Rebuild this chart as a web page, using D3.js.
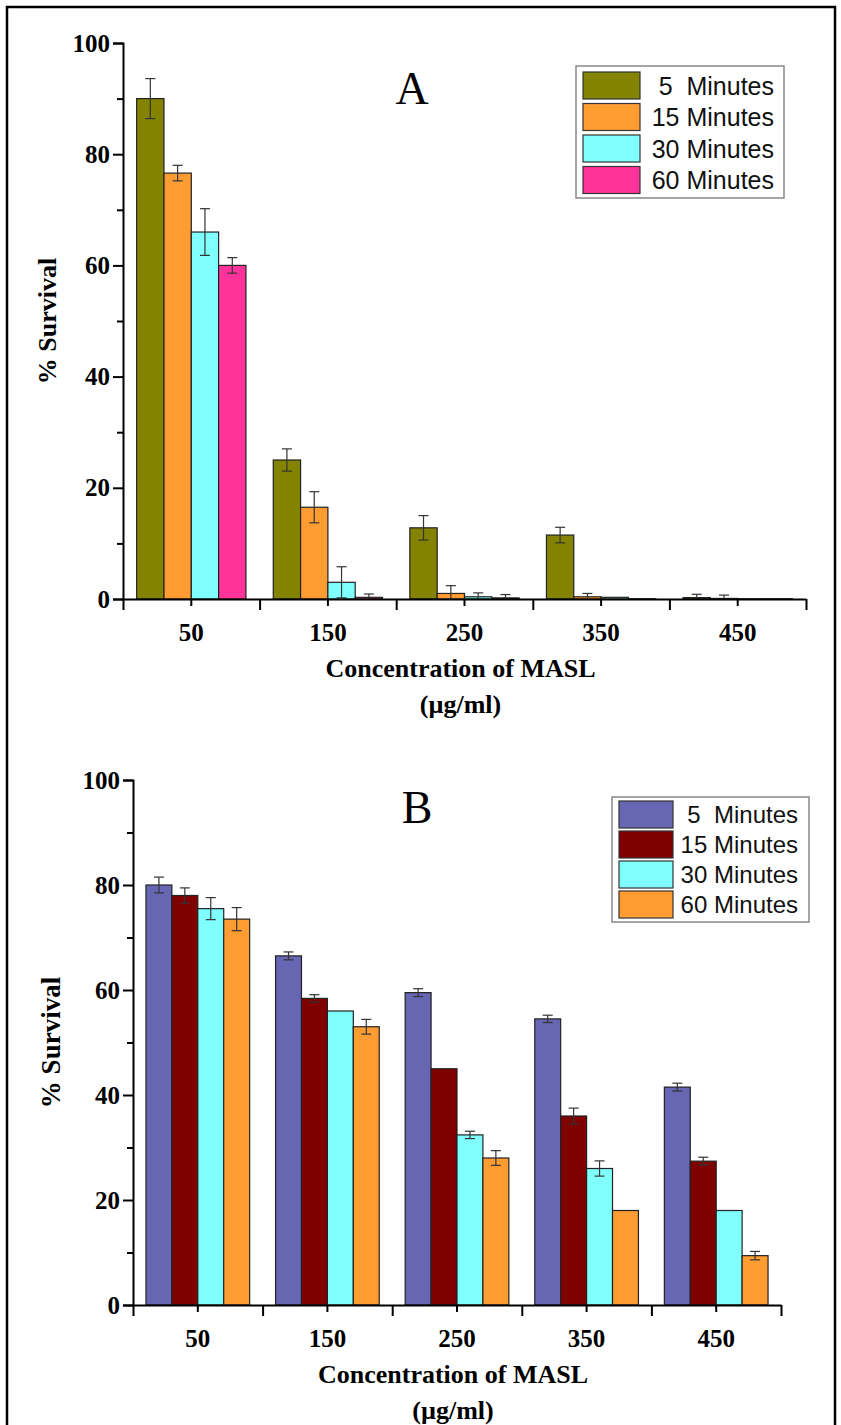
<!DOCTYPE html>
<html>
<head>
<meta charset="utf-8">
<script src="https://cdn.jsdelivr.net/npm/d3@7"></script>
<style>
    body { margin: 0; background: #fff; }
    svg { display: block; }
</style>
</head>
<body>
<div id="chart"></div>
<script>
const concentrations = ["50", "150", "250", "350", "450"];
const seriesNames = ["5  Minutes", "15 Minutes", "30 Minutes", "60 Minutes"];
const yTicks = [0, 20, 40, 60, 80, 100];
const yMinorTicks = [10, 30, 50, 70, 90];

// panel A: rows = concentration, columns = exposure time
const survivalA = [
    [90, 76.6, 66, 60],
    [25, 16.5, 3, 0.3],
    [12.8, 1, 0.4, 0.2],
    [11.5, 0.4, 0.3, 0.05],
    [0.25, 0.1, 0.05, 0.05]
];
const errorA = [
    [3.6, 1.4, 4.2, 1.4],
    [2, 2.8, 2.8, 0.6],
    [2.2, 1.4, 0.7, 0.6],
    [1.4, 0.6, 0, 0],
    [0.6, 0.6, 0, 0]
];
const colorsA = ["#838300", "#ff9d33", "#80ffff", "#ff3399"];

// panel B
const survivalB = [
    [80, 78, 75.5, 73.5],
    [66.5, 58.4, 56, 53],
    [59.5, 45, 32.4, 28],
    [54.5, 36, 26, 18],
    [41.5, 27.4, 18, 9.4]
];
const errorB = [
    [1.5, 1.45, 2.1, 2.2],
    [0.75, 0.7, 0, 1.4],
    [0.75, 0, 0.7, 1.4],
    [0.7, 1.5, 1.45, 0],
    [0.75, 0.75, 0, 0.8]
];
const colorsB = ["#6666b3", "#800000", "#80ffff", "#ff9d33"];

const width = 841, height = 1425;
const serif = "'Liberation Serif', 'Times New Roman', serif";
const sans = "'Liberation Sans', Arial, sans-serif";

const svg = d3.select("#chart").append("svg")
    .attr("width", width)
    .attr("height", height);

// outer frame
svg.append("rect")
    .attr("x", 7).attr("y", 7)
    .attr("width", 828).attr("height", 1440)
    .attr("fill", "none")
    .attr("stroke", "#000")
    .attr("stroke-width", 2.5);

function drawPanel(cfg) {
    const g = svg.append("g");

    const y = d3.scaleLinear().domain([0, 100]).range([cfg.y0, cfg.y100]);
    const x0 = d3.scaleBand().domain(concentrations).range([cfg.xL, cfg.xR]).padding(0);
    const bw = x0.bandwidth();
    const x1 = d3.scaleBand().domain(d3.range(seriesNames.length))
        .range([bw * 0.1, bw * 0.9]).padding(0);
    const xEdge = d3.scaleLinear().domain([0, concentrations.length]).range([cfg.xL, cfg.xR]);

    // bars
    const groups = g.append("g").selectAll("g")
        .data(cfg.values)
        .join("g")
        .attr("transform", (d, i) => `translate(${x0(concentrations[i])},0)`);

    groups.selectAll("rect")
        .data(d => d)
        .join("rect")
        .attr("x", (d, j) => x1(j))
        .attr("width", x1.bandwidth())
        .attr("y", d => y(d))
        .attr("height", d => cfg.y0 - y(d))
        .attr("fill", (d, j) => cfg.colors[j])
        .attr("stroke", "#222")
        .attr("stroke-width", 1.2);

    // error bars
    const errs = [];
    cfg.values.forEach((row, i) => row.forEach((v, j) => {
        const e = cfg.errors[i][j];
        if (e > 0) errs.push({ cx: x0(concentrations[i]) + x1(j) + x1.bandwidth() / 2, lo: Math.max(0, v - e), hi: v + e });
    }));
    const eg = g.append("g").attr("stroke", "#333").attr("stroke-width", 1.2);
    eg.selectAll("line.v").data(errs).join("line").attr("class", "v")
        .attr("x1", d => d.cx).attr("x2", d => d.cx)
        .attr("y1", d => y(d.lo)).attr("y2", d => y(d.hi));
    eg.selectAll("line.t").data(errs).join("line").attr("class", "t")
        .attr("x1", d => d.cx - 5).attr("x2", d => d.cx + 5)
        .attr("y1", d => y(d.hi)).attr("y2", d => y(d.hi));
    eg.selectAll("line.b").data(errs.filter(d => d.lo > 0)).join("line").attr("class", "b")
        .attr("x1", d => d.cx - 5).attr("x2", d => d.cx + 5)
        .attr("y1", d => y(d.lo)).attr("y2", d => y(d.lo));

    // y axis
    const yAxis = g.append("g")
        .attr("transform", `translate(${cfg.xL},0)`)
        .call(d3.axisLeft(y).tickValues(yTicks).tickSize(10).tickPadding(3));
    g.append("g")
        .attr("transform", `translate(${cfg.xL},0)`)
        .call(d3.axisLeft(y).tickValues(yMinorTicks).tickSize(6).tickFormat(""))
        .select(".domain").remove();

    // x axis: labels + minor ticks at centres, long ticks at group edges
    const xAxis = g.append("g")
        .attr("transform", `translate(0,${cfg.y0})`)
        .call(d3.axisBottom(x0).tickSize(7).tickSizeOuter(0).tickPadding(cfg.xLabelPad));
    g.append("g")
        .attr("transform", `translate(0,${cfg.y0})`)
        .call(d3.axisBottom(xEdge).ticks(concentrations.length).tickSize(11).tickFormat(""))
        .select(".domain").remove();

    g.selectAll(".domain, .tick line").attr("stroke", "#000").attr("stroke-width", 2);
    [yAxis, xAxis].forEach(a => a.selectAll("text")
        .attr("fill", "#000")
        .style("font-family", serif)
        .style("font-weight", "bold")
        .style("font-size", "25px"));

    // axis titles
    g.append("text")
        .attr("transform", `translate(${cfg.yTitleX},${(cfg.y0 + cfg.y100) / 2}) rotate(-90)`)
        .attr("text-anchor", "middle")
        .attr("dy", "0.35em")
        .style("font-family", serif).style("font-weight", "bold").style("font-size", cfg.yTitleFs + "px")
        .text("% Survival");

    const cx = (cfg.xL + cfg.xR) / 2 - 4;
    g.append("text")
        .attr("x", cx).attr("y", cfg.y0 + 78)
        .attr("text-anchor", "middle")
        .style("font-family", serif).style("font-weight", "bold").style("font-size", "26px")
        .text("Concentration of MASL");
    g.append("text")
        .attr("x", cx).attr("y", cfg.y0 + 114)
        .attr("text-anchor", "middle")
        .style("font-family", serif).style("font-weight", "bold").style("font-size", "26px")
        .text("(µg/ml)");

    // panel letter
    g.append("text")
        .attr("x", cfg.letterX).attr("y", cfg.letterY)
        .attr("text-anchor", "middle")
        .style("font-family", serif).style("font-size", "46px")
        .text(cfg.letter);

    // legend
    const lg = g.append("g");
    lg.append("rect")
        .attr("x", cfg.legend.x).attr("y", cfg.legend.y)
        .attr("width", cfg.legend.w).attr("height", cfg.legend.h)
        .attr("fill", "#fff").attr("stroke", "#888").attr("stroke-width", 1.5);
    const items = lg.selectAll("g").data(seriesNames).join("g")
        .attr("transform", (d, j) => `translate(0,${cfg.legend.y + cfg.legend.top + j * cfg.legend.step})`);
    items.append("rect")
        .attr("x", cfg.legend.x + 7).attr("y", 0)
        .attr("width", cfg.legend.sw).attr("height", cfg.legend.sh)
        .attr("fill", (d, j) => cfg.colors[j])
        .attr("stroke", "#333").attr("stroke-width", 1.2);
    items.append("text")
        .attr("x", cfg.legend.textEnd).attr("y", cfg.legend.sh / 2)
        .attr("dy", "0.36em")
        .attr("text-anchor", "end")
        .style("white-space", "pre")
        .style("font-family", sans).style("font-size", cfg.legend.fs + "px")
        .attr("fill", "#111")
        .text(d => d);
}

drawPanel({
    letter: "A", letterX: 412, letterY: 104,
    values: survivalA, errors: errorA, colors: colorsA,
    xL: 123, xR: 806, y0: 599, y100: 43,
    yTitleX: 47, yTitleFs: 26, xLabelPad: 17,
    legend: { x: 576, y: 66, w: 208, h: 132, top: 6, step: 31.5, sw: 57, sh: 27, textEnd: 774, fs: 25 }
});

drawPanel({
    letter: "B", letterX: 417, letterY: 823,
    values: survivalB, errors: errorB, colors: colorsB,
    xL: 133, xR: 781, y0: 1305, y100: 780,
    yTitleX: 51, yTitleFs: 27, xLabelPad: 17,
    legend: { x: 612, y: 797, w: 197, h: 125, top: 4, step: 30, sw: 54, sh: 27, textEnd: 798, fs: 24 }
});
</script>
</body>
</html>
